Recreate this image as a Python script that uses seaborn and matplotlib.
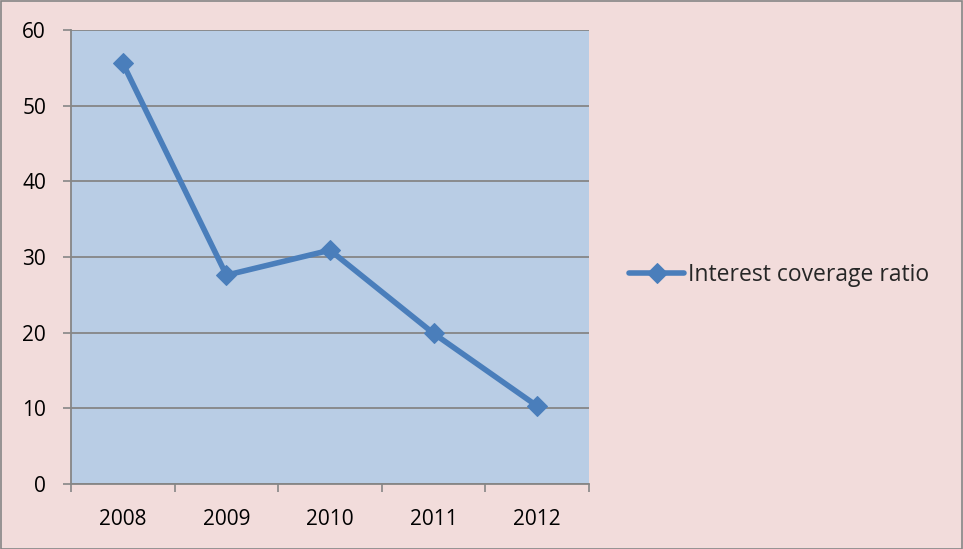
import matplotlib
matplotlib.use("Agg")
import matplotlib.pyplot as plt
from matplotlib.patches import Rectangle
from matplotlib.ticker import FixedLocator, NullFormatter
import seaborn as sns
import pandas as pd

years = ["2008", "2009", "2010", "2011", "2012"]
coverage = [55.6, 27.6, 30.9, 19.9, 10.3]
series_name = "Interest coverage ratio"
y_ticks = [0, 10, 20, 30, 40, 50, 60]

df = pd.DataFrame({"pos": range(len(years)), "value": coverage, "series": series_name})

sns.set_theme(style="white")
plt.rcParams["font.family"] = ["Open Sans", "DejaVu Sans"]

fs = 15
fig = plt.figure(figsize=(9.63, 5.49), dpi=100, facecolor="#F2DCDB")
ax = fig.add_axes([71 / 963, 1 - 484 / 549, (589 - 71) / 963, (484 - 30) / 549])
ax.set_facecolor("#B9CDE5")

line_color = "#4A7EBB"
sns.lineplot(data=df, x="pos", y="value", hue="series", palette=[line_color],
             marker="D", markersize=10.5, markeredgecolor=line_color,
             linewidth=4, ax=ax, zorder=3)

ax.set_xlim(-0.5, len(years) - 0.5)
ax.set_ylim(0, 60)
ax.set_yticks(y_ticks)
ax.set_yticklabels([str(t) for t in y_ticks], fontsize=fs, color="black")

# ticks between categories, labels centred on categories
ax.xaxis.set_major_locator(FixedLocator([i - 0.5 for i in range(len(years) + 1)]))
ax.xaxis.set_major_formatter(NullFormatter())
ax.xaxis.set_minor_locator(FixedLocator(list(range(len(years)))))
ax.set_xticklabels(years, minor=True, fontsize=fs, color="black")
ax.tick_params(axis="x", which="major", direction="out", length=6, width=1.2,
               color="#868686", bottom=True)
ax.tick_params(axis="x", which="minor", length=0, pad=18)
ax.tick_params(axis="y", direction="out", length=6, width=1.2, color="#868686",
               left=True, pad=12)

ax.grid(axis="y", color="#868686", linewidth=1.3, zorder=1)
ax.set_axisbelow(True)
for side in ("top", "right"):
    ax.spines[side].set_visible(False)
for side in ("left", "bottom"):
    ax.spines[side].set_color("#868686")
    ax.spines[side].set_linewidth(1.3)
ax.set_xlabel("")
ax.set_ylabel("")

handles, labels = ax.get_legend_handles_labels()
ax.legend(handles, labels, loc="center left", bbox_to_anchor=(620 / 963, 1 - 275 / 549),
          bbox_transform=fig.transFigure, frameon=False, fontsize=16.5,
          handlelength=2.4, handletextpad=0.15, borderaxespad=0)

fig.patches.append(Rectangle((0.5 / 963, 0.5 / 549), 1 - 1.5 / 963, 1 - 1.5 / 549,
                             transform=fig.transFigure, fill=False,
                             edgecolor="#868686", linewidth=1.2))

fig.savefig("out.png", dpi=100, facecolor=fig.get_facecolor())
